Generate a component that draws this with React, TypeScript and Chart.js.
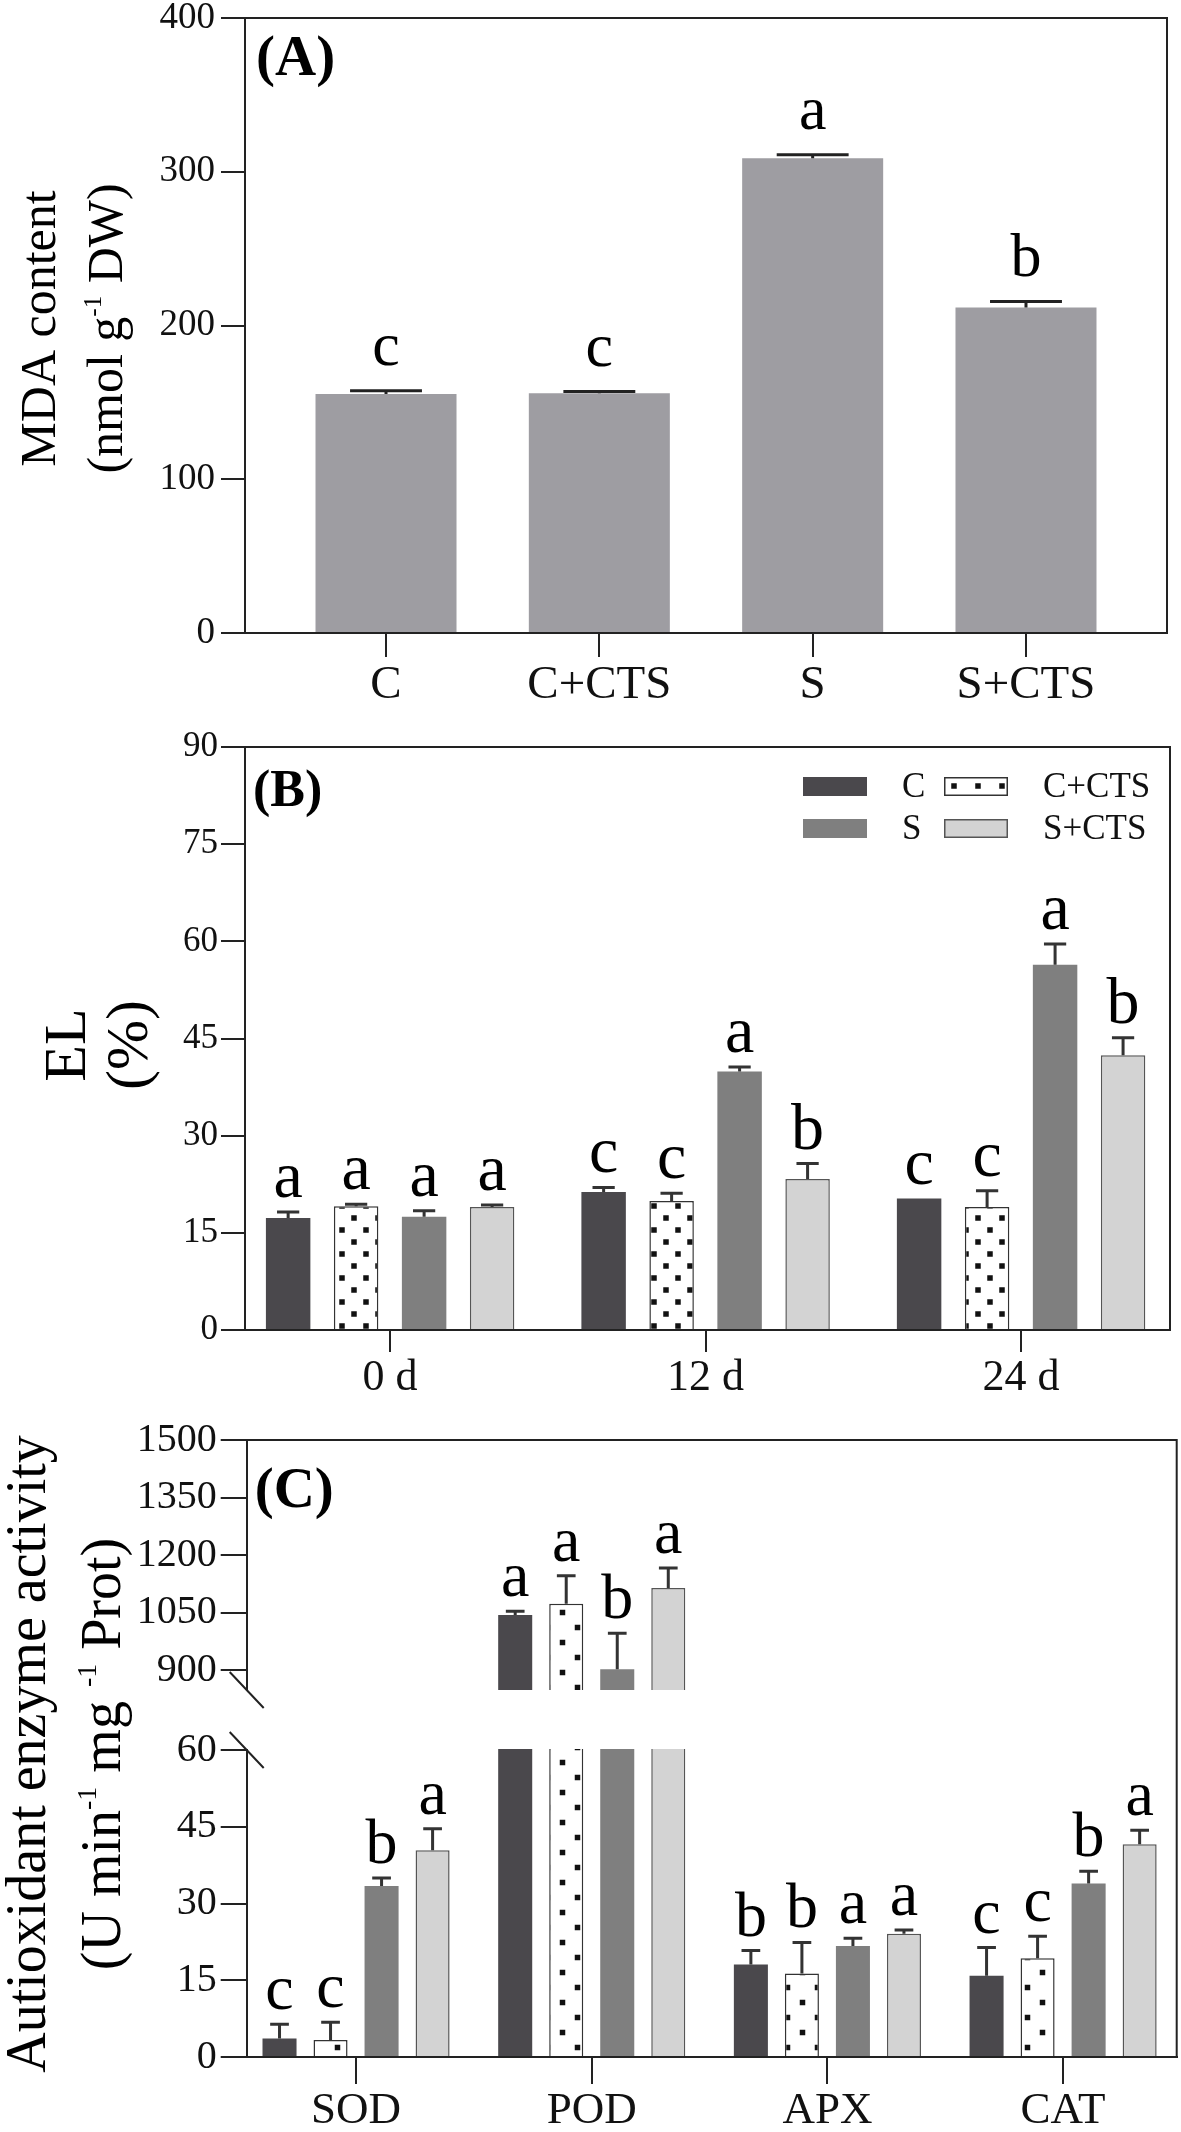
import React, { useEffect, useRef } from 'react';
import { Chart, registerables, LinearScale } from 'chart.js';

Chart.register(...registerables);

const FONT = '"Liberation Serif", "Times New Roman", "DejaVu Serif", serif';
const AXIS = '#222222';

// ---------- Panel A data ----------
const A_CATEGORIES = ['C', 'C+CTS', 'S', 'S+CTS'];
const A_VALUES = [155.5, 156, 308.8, 211.7];
const A_ERRORS = [2, 1, 2.2, 3.9];
const A_LETTERS = ['c', 'c', 'a', 'b'];
const A_TICKS = [0, 100, 200, 300, 400];

// ---------- Panel B data ----------
const B_DAYS = ['0 d', '12 d', '24 d'];
const B_TREATMENTS = ['C', 'C+CTS', 'S', 'S+CTS'];
const B_C = [17.3, 21.3, 20.3];
const B_CCTS = [19.1, 19.9, 19.0];
const B_S = [17.5, 39.9, 56.4];
const B_SCTS = [19.0, 23.3, 42.4];
const B_C_ERR = [0.9, 0.7, 0];
const B_CCTS_ERR = [0.3, 1.2, 2.5];
const B_S_ERR = [0.9, 0.7, 3.2];
const B_SCTS_ERR = [0.3, 2.4, 2.7];
const B_C_LET = ['a', 'c', 'c'];
const B_CCTS_LET = ['a', 'c', 'c'];
const B_S_LET = ['a', 'a', 'a'];
const B_SCTS_LET = ['a', 'b', 'b'];
const B_TICKS = [0, 15, 30, 45, 60, 75, 90];

// ---------- Panel C data ----------
const C_ENZYMES = ['SOD', 'POD', 'APX', 'CAT'];
const C_C = [3.6, 1043.5, 18.1, 15.9];
const C_CCTS = [3.3, 1073, 16.3, 19.3];
const C_S = [33.4, 902, 21.7, 33.9];
const C_SCTS = [40.4, 1114, 24.1, 41.6];
const C_C_ERR = [2.8, 10, 2.7, 5.5];
const C_CCTS_ERR = [3.5, 73, 6.1, 4.3];
const C_S_ERR = [1.6, 94, 1.5, 2.4];
const C_SCTS_ERR = [4.2, 52, 0.7, 2.7];
const C_C_LET = ['c', 'a', 'b', 'c'];
const C_CCTS_LET = ['c', 'a', 'b', 'c'];
const C_S_LET = ['b', 'b', 'a', 'b'];
const C_SCTS_LET = ['a', 'a', 'a', 'a'];
const C_TICKS = [0, 15, 30, 45, 60, 900, 1050, 1200, 1350, 1500];

// axis break configuration (scale option, not data)
const C_BREAK = { lowMax: 60, highMin: 848, lowFrac: 307 / 617, gapFrac: 60 / 617 };

// colours
const COL_A = '#9e9da2';
const COL_C = '#4a484c';
const COL_S = '#7f7f7f';
const COL_SCTS = '#d3d3d3';

class BrokenLinearScale extends (LinearScale as any) {
  static id = 'brokenLinear';
  static defaults = {};
  getPixelForValue(value: any) {
    if (value === null || value === undefined || isNaN(value)) return NaN;
    const b = C_BREAK;
    const min = this.min, max = this.max;
    let d;
    if (value <= b.lowMax) d = ((value - min) / (b.lowMax - min)) * b.lowFrac;
    else if (value < b.highMin) d = b.lowFrac + ((value - b.lowMax) / (b.highMin - b.lowMax)) * b.gapFrac;
    else d = b.lowFrac + b.gapFrac + ((value - b.highMin) / (max - b.highMin)) * (1 - b.lowFrac - b.gapFrac);
    return this.getPixelForDecimal(d);
  }
  getValueForPixel(pixel: number) {
    const b = C_BREAK;
    const d = this.getDecimalForPixel(pixel);
    const lf = b.lowFrac, gf = b.gapFrac;
    if (d <= lf) return this.min + (d / lf) * (b.lowMax - this.min);
    if (d < lf + gf) return b.lowMax + ((d - lf) / gf) * (b.highMin - b.lowMax);
    return b.highMin + ((d - lf - gf) / (1 - lf - gf)) * (this.max - b.highMin);
  }
}
Chart.register(BrokenLinearScale as any);

function makeDotPattern(half: number, sq: number) {
  const c = document.createElement('canvas');
  c.width = half * 2;
  c.height = half * 2;
  const g = c.getContext('2d')!;
  g.fillStyle = '#ffffff';
  g.fillRect(0, 0, c.width, c.height);
  g.fillStyle = '#111111';
  g.fillRect(half / 2 - sq / 2, half / 2 - sq / 2, sq, sq);
  g.fillRect(half * 1.5 - sq / 2, half * 1.5 - sq / 2, sq, sq);
  return g.createPattern(c, 'repeat')!;
}

const toXY = (arr: number[]) => arr.map((v, i) => ({ x: i, y: v }));

function xAxis(cats: string[], min: number, max: number, height: number, tickLen: number, fontSize: number, pad: number) {
  return {
    type: 'linear',
    min,
    max,
    offset: false,
    z: 1,
    afterBuildTicks: (s: any) => {
      s.ticks = cats.map((_, i) => ({ value: i }));
    },
    afterFit: (s: any) => {
      s.height = height;
      s.paddingLeft = 0;
      s.paddingRight = 0;
    },
    grid: { display: true, drawOnChartArea: false, drawTicks: true, tickLength: tickLen, color: AXIS, lineWidth: 2, offset: false },
    border: { display: true, color: AXIS, width: 2 },
    ticks: {
      autoSkip: false,
      maxRotation: 0,
      minRotation: 0,
      padding: pad,
      color: '#111',
      font: { family: FONT, size: fontSize },
      callback: (v: any) => (cats[v] !== undefined ? cats[v] : ''),
    },
  };
}

function yAxis(type: string, max: number, ticks: number[], width: number, tickLen: number, fontSize: number, pad: number) {
  return {
    type,
    min: 0,
    max,
    z: 1,
    afterBuildTicks: (s: any) => {
      s.ticks = ticks.map((v) => ({ value: v }));
    },
    afterFit: (s: any) => {
      s.width = width;
      s.paddingTop = 0;
      s.paddingBottom = 0;
    },
    grid: { display: true, drawOnChartArea: false, drawTicks: true, tickLength: tickLen, color: AXIS, lineWidth: 2 },
    border: { display: true, color: AXIS, width: 2 },
    ticks: {
      autoSkip: false,
      padding: pad,
      color: '#111',
      font: { family: FONT, size: fontSize },
      callback: (v: any) => String(v),
    },
  };
}

const framePlugin = {
  id: 'frame',
  afterDraw(chart: any) {
    const { ctx, chartArea: ca } = chart;
    ctx.save();
    ctx.strokeStyle = AXIS;
    ctx.lineWidth = 2;
    ctx.beginPath();
    ctx.moveTo(ca.left - 1, ca.top);
    ctx.lineTo(ca.right, ca.top);
    ctx.lineTo(ca.right, ca.bottom + 1);
    ctx.stroke();
    ctx.restore();
  },
};

function errLetterPlugin(cfg: { capFrac: number; lineWidth: number; color: string; size: number; gap: number }) {
  return {
    id: 'errLetters',
    afterDraw(chart: any) {
      const ctx = chart.ctx;
      const ys = chart.scales.y;
      ctx.save();
      chart.data.datasets.forEach((ds: any, di: number) => {
        const meta = chart.getDatasetMeta(di);
        meta.data.forEach((el: any, i: number) => {
          const v = ds.data[i].y;
          const e = ds.errors[i];
          const x = el.x;
          const yTop = el.y;
          const yCap = ys.getPixelForValue(v + e);
          if (e > 0) {
            const hw = (el.width * cfg.capFrac) / 2;
            ctx.strokeStyle = cfg.color;
            ctx.lineWidth = cfg.lineWidth;
            ctx.lineCap = 'butt';
            ctx.beginPath();
            ctx.moveTo(x, yTop);
            ctx.lineTo(x, yCap);
            ctx.moveTo(x - hw, yCap);
            ctx.lineTo(x + hw, yCap);
            ctx.stroke();
          }
          ctx.fillStyle = '#000';
          ctx.font = `${cfg.size}px ${FONT}`;
          ctx.textAlign = 'center';
          ctx.textBaseline = 'alphabetic';
          ctx.fillText(ds.letters[i], x, Math.min(yCap, yTop) - cfg.gap);
        });
      });
      ctx.restore();
    },
  };
}

function panelLabelPlugin(text: string, size: number, dx: number, dy: number) {
  return {
    id: 'panelLabel',
    afterDraw(chart: any) {
      const { ctx, chartArea: ca } = chart;
      ctx.save();
      ctx.fillStyle = '#000';
      ctx.font = `bold ${size}px ${FONT}`;
      ctx.textAlign = 'left';
      ctx.textBaseline = 'alphabetic';
      ctx.fillText(text, ca.left + dx, ca.top + dy);
      ctx.restore();
    },
  };
}

type Seg = { t: string; sup?: boolean };

function titlePlugin(lines: { segs: Seg[]; x: number }[], size: number, dyCenter: number) {
  return {
    id: 'yTitle',
    afterDraw(chart: any) {
      const { ctx, chartArea: ca } = chart;
      const yc = (ca.top + ca.bottom) / 2 + dyCenter;
      const supSize = size * 0.5;
      ctx.save();
      ctx.fillStyle = '#000';
      ctx.textAlign = 'left';
      ctx.textBaseline = 'alphabetic';
      lines.forEach((line) => {
        const widths = line.segs.map((s) => {
          ctx.font = `${s.sup ? supSize : size}px ${FONT}`;
          return ctx.measureText(s.t).width;
        });
        const total = widths.reduce((a, b) => a + b, 0);
        ctx.save();
        ctx.translate(line.x, yc);
        ctx.rotate(-Math.PI / 2);
        let x = -total / 2;
        line.segs.forEach((s, i) => {
          ctx.font = `${s.sup ? supSize : size}px ${FONT}`;
          ctx.fillText(s.t, x, s.sup ? -size * 0.42 : 0);
          x += widths[i];
        });
        ctx.restore();
      });
      ctx.restore();
    },
  };
}

const legendPlugin = {
  id: 'innerLegend',
  afterDraw(chart: any) {
    const { ctx, chartArea: ca } = chart;
    const cols = [
      { sx: 558, tx: 657 },
      { sx: 699, tx: 798 },
    ];
    const rows = [39.5, 81.5];
    ctx.save();
    chart.data.datasets.forEach((ds: any, i: number) => {
      const c = cols[i % 2];
      const r = rows[Math.floor(i / 2)];
      const x = ca.left + c.sx;
      const y = ca.top + r;
      ctx.fillStyle = ds.backgroundColor;
      ctx.fillRect(x, y - 9.5, 64, 19);
      if (ds.borderWidth) {
        ctx.strokeStyle = ds.borderColor;
        ctx.lineWidth = 1.5;
        ctx.strokeRect(x + 0.75, y - 9.5 + 0.75, 64 - 1.5, 19 - 1.5);
      }
      ctx.fillStyle = '#111';
      ctx.font = `35px ${FONT}`;
      ctx.textAlign = 'left';
      ctx.textBaseline = 'middle';
      ctx.fillText(ds.label, ca.left + c.tx, y + 1);
    });
    ctx.restore();
  },
};

const breakPlugin = {
  id: 'axisBreak',
  afterDraw(chart: any) {
    const { ctx, chartArea: ca } = chart;
    const ys = chart.scales.y;
    const yHi = ys.getPixelForValue(C_BREAK.highMin);
    const yLo = ys.getPixelForValue(C_BREAK.lowMax);
    ctx.save();
    ctx.fillStyle = '#ffffff';
    ctx.fillRect(ca.left - 2, yHi, ca.right - ca.left, yLo - yHi - 1);
    ctx.strokeStyle = AXIS;
    ctx.lineWidth = 2;
    [yHi, yLo].forEach((yy) => {
      ctx.beginPath();
      ctx.moveTo(ca.left - 17, yy - 18);
      ctx.lineTo(ca.left + 17, yy + 18);
      ctx.stroke();
    });
    ctx.restore();
  },
};

const baseOptions = (padding: any) => ({
  animation: false,
  responsive: false,
  maintainAspectRatio: false,
  devicePixelRatio: 1,
  events: [],
  layout: { padding, autoPadding: false },
  plugins: { legend: { display: false }, tooltip: { enabled: false } },
});

function buildA(): any {
  return {
    type: 'bar',
    data: {
      datasets: [
        {
          label: 'MDA',
          data: toXY(A_VALUES),
          backgroundColor: COL_A,
          borderWidth: 0,
          categoryPercentage: 1,
          barPercentage: 0.661,
          errors: A_ERRORS,
          letters: A_LETTERS,
        },
      ],
    },
    options: {
      ...baseOptions({ top: 18, right: 14, left: 0, bottom: 0 }),
      scales: {
        x: xAxis(A_CATEGORIES, -0.661, 3.661, 87, 24, 47, 0),
        y: yAxis('linear', 400, A_TICKS, 245, 24, 37, 6),
      },
    },
    plugins: [
      framePlugin,
      errLetterPlugin({ capFrac: 0.51, lineWidth: 3, color: '#222', size: 62, gap: 26 }),
      panelLabelPlugin('(A)', 57, 11, 57),
      titlePlugin(
        [
          { segs: [{ t: 'MDA content' }], x: 55 },
          { segs: [{ t: '(nmol g' }, { t: '-1', sup: true }, { t: ' DW)' }], x: 122 },
        ],
        50,
        3
      ),
    ],
  };
}

function buildB(pattern: CanvasPattern): any {
  const common = { categoryPercentage: 0.862, barPercentage: 0.654 };
  return {
    type: 'bar',
    data: {
      datasets: [
        { label: B_TREATMENTS[0], data: toXY(B_C), backgroundColor: COL_C, borderWidth: 0, errors: B_C_ERR, letters: B_C_LET, ...common },
        { label: B_TREATMENTS[1], data: toXY(B_CCTS), backgroundColor: pattern, borderColor: '#333', borderWidth: 1.5, errors: B_CCTS_ERR, letters: B_CCTS_LET, ...common },
        { label: B_TREATMENTS[2], data: toXY(B_S), backgroundColor: COL_S, borderWidth: 0, errors: B_S_ERR, letters: B_S_LET, ...common },
        { label: B_TREATMENTS[3], data: toXY(B_SCTS), backgroundColor: COL_SCTS, borderColor: '#555', borderWidth: 1.5, errors: B_SCTS_ERR, letters: B_SCTS_LET, ...common },
      ],
    },
    options: {
      ...baseOptions({ top: 27, right: 11, left: 0, bottom: 0 }),
      scales: {
        x: xAxis(B_DAYS, -0.46, 2.472, 80, 22, 44, 0),
        y: yAxis('linear', 90, B_TICKS, 245, 24, 35, 3),
      },
    },
    plugins: [
      framePlugin,
      errLetterPlugin({ capFrac: 0.5, lineWidth: 3, color: '#333', size: 66, gap: 15 }),
      panelLabelPlugin('(B)', 52, 8, 59),
      legendPlugin,
      titlePlugin(
        [
          { segs: [{ t: 'EL' }], x: 85 },
          { segs: [{ t: '(%)' }], x: 147 },
        ],
        60,
        6.5
      ),
    ],
  };
}

function buildC(pattern: CanvasPattern): any {
  const common = { categoryPercentage: 0.866, barPercentage: 0.667 };
  return {
    type: 'bar',
    data: {
      datasets: [
        { label: B_TREATMENTS[0], data: toXY(C_C), backgroundColor: COL_C, borderWidth: 0, errors: C_C_ERR, letters: C_C_LET, ...common },
        { label: B_TREATMENTS[1], data: toXY(C_CCTS), backgroundColor: pattern, borderColor: '#333', borderWidth: 1.5, errors: C_CCTS_ERR, letters: C_CCTS_LET, ...common },
        { label: B_TREATMENTS[2], data: toXY(C_S), backgroundColor: COL_S, borderWidth: 0, errors: C_S_ERR, letters: C_S_LET, ...common },
        { label: B_TREATMENTS[3], data: toXY(C_SCTS), backgroundColor: COL_SCTS, borderColor: '#555', borderWidth: 1.5, errors: C_SCTS_ERR, letters: C_SCTS_LET, ...common },
      ],
    },
    options: {
      ...baseOptions({ top: 30, right: 4.3, left: 0, bottom: 0 }),
      scales: {
        x: xAxis(C_ENZYMES, -0.464, 3.482, 75, 27, 45, 0),
        y: yAxis('brokenLinear', 1500, C_TICKS, 246.7, 26, 40, 4),
      },
    },
    plugins: [
      breakPlugin,
      framePlugin,
      errLetterPlugin({ capFrac: 0.55, lineWidth: 3, color: '#333', size: 64, gap: 15 }),
      panelLabelPlugin('(C)', 57, 8, 67),
      titlePlugin(
        [
          { segs: [{ t: 'Autioxidant enzyme activity' }], x: 45 },
          {
            segs: [{ t: '(U min' }, { t: '-1', sup: true }, { t: ' mg ' }, { t: '-1', sup: true }, { t: ' Prot)' }],
            x: 120,
          },
        ],
        56,
        5.5
      ),
    ],
  };
}

export default function App() {
  const refA = useRef<HTMLCanvasElement>(null);
  const refB = useRef<HTMLCanvasElement>(null);
  const refC = useRef<HTMLCanvasElement>(null);

  useEffect(() => {
    const patB = makeDotPattern(12, 5.5);
    const patC = makeDotPattern(15, 5.5);
    const charts = [
      new Chart(refA.current as HTMLCanvasElement, buildA()),
      new Chart(refB.current as HTMLCanvasElement, buildB(patB)),
      new Chart(refC.current as HTMLCanvasElement, buildC(patC)),
    ];
    return () => charts.forEach((c) => c.destroy());
  }, []);

  return (
    <div style={{ position: 'absolute', left: 0, top: 0, width: 1181, height: 2132, background: '#ffffff' }}>
      <canvas ref={refA} width={1181} height={720} style={{ position: 'absolute', left: 0, top: 0 }} />
      <canvas ref={refB} width={1181} height={690} style={{ position: 'absolute', left: 0, top: 720 }} />
      <canvas ref={refC} width={1181} height={722} style={{ position: 'absolute', left: 0, top: 1410 }} />
    </div>
  );
}
